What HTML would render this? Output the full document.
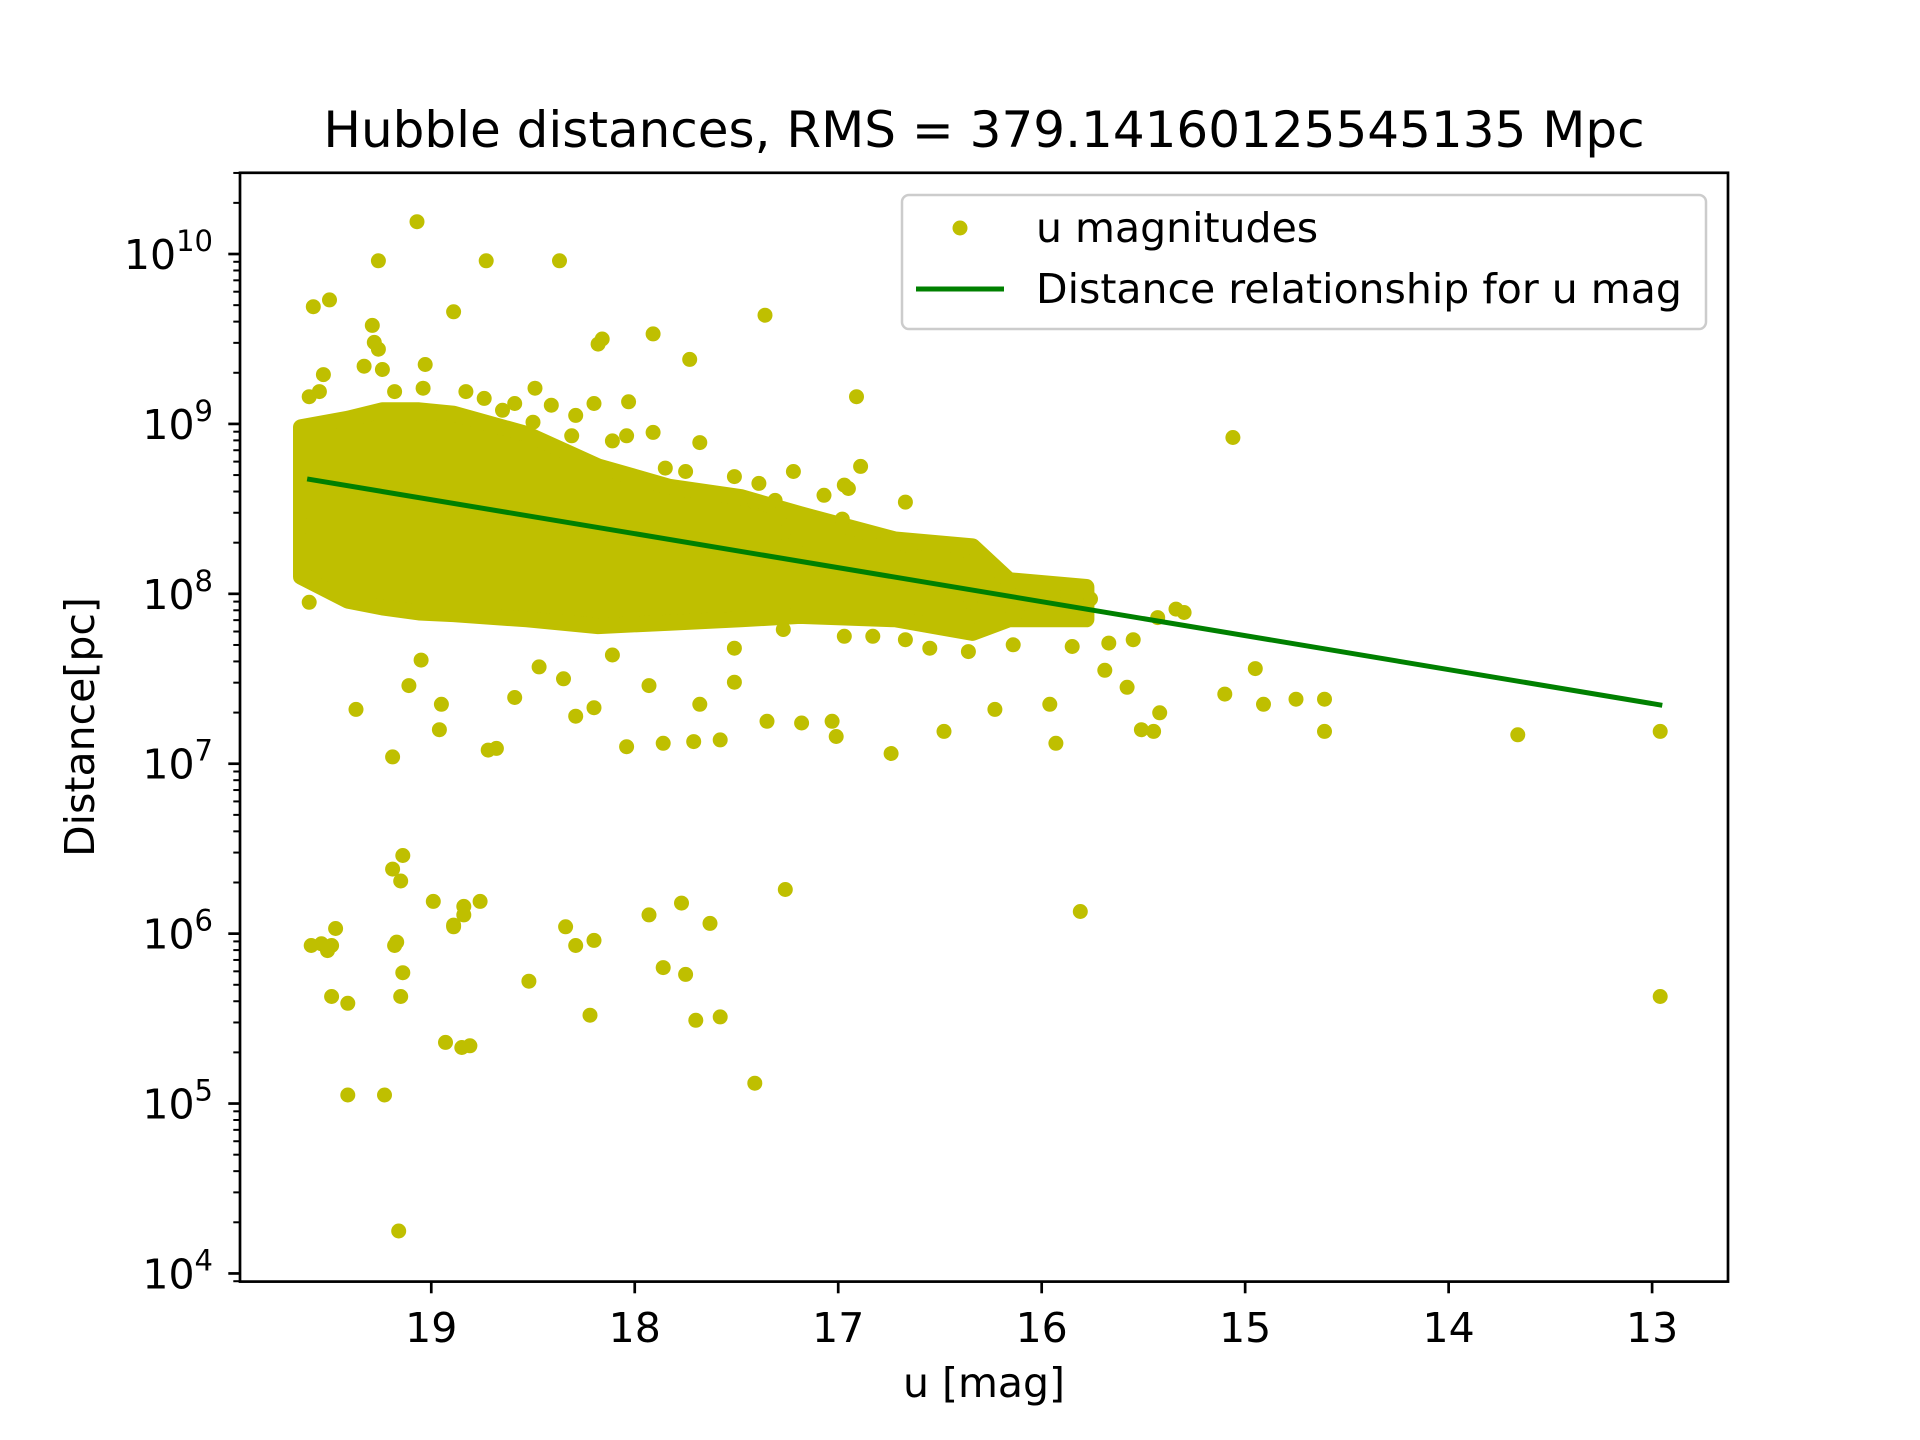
<!DOCTYPE html>
<html><head><meta charset="utf-8"><style>
html,body{margin:0;padding:0;background:#fff;}
svg{display:block;font-family:"DejaVu Sans","Liberation Sans",sans-serif;}
</style></head><body>
<svg id="chart" width="1920" height="1440" viewBox="0 0 1920 1440" xmlns="http://www.w3.org/2000/svg">
<rect width="1920" height="1440" fill="#fff"/>
<text x="984" y="147" font-size="50" text-anchor="middle">Hubble distances, RMS = 379.14160125545135 Mpc</text>
<g id="plot"></g>
<g id="axes"></g>
<text x="984" y="1397" font-size="41" text-anchor="middle">u [mag]</text>
<text x="94" y="727" font-size="41" text-anchor="middle" transform="rotate(-90 94 727)">Distance[pc]</text>
<g>
<rect x="902" y="195" width="804" height="134" rx="7" fill="#fff" fill-opacity="0.8" stroke="#ccc" stroke-width="2.5"/>
<circle cx="960" cy="228" r="7.5" fill="#bfbf00"/>
<text x="1036" y="242" font-size="41">u magnitudes</text>
<line x1="916" y1="289" x2="1004" y2="289" stroke="#008000" stroke-width="5"/>
<text x="1036" y="303" font-size="41">Distance relationship for u mag</text>
</g>
</svg>
<script>
const xTicks = [19,18,17,16,15,14,13];
const yDecades = [4,5,6,7,8,9,10];
// dense core envelope: magnitude, upper log10(d), lower log10(d)
const coreMag = [19.64,19.41,19.24,19.06,18.89,18.53,18.18,17.83,17.48,17.19,16.72,16.34,16.16,15.78];
const coreUpper = [8.98,9.03,9.08,9.08,9.06,8.94,8.75,8.63,8.57,8.47,8.32,8.28,8.08,8.04];
const coreLower = [8.10,7.96,7.92,7.89,7.88,7.85,7.81,7.83,7.85,7.87,7.85,7.77,7.85,7.85];
// individual points: magnitude and log10 distance
const ptMag = [19.07,19.26,18.73,18.37,19.58,19.50,18.89,19.29,19.26,17.36,17.91,18.16,18.18,17.73,19.03,16.91,15.06,19.53,17.68,18.03,
19.16,19.41,19.23,17.41,18.93,18.85,18.81,17.70,17.58,18.22,18.52,19.59,19.54,19.49,19.51,19.47,19.17,19.18,19.14,19.15,19.49,19.41,18.99,18.76,18.84,18.89,18.89,18.84,19.15,19.14,19.19,18.34,18.20,18.29,17.93,17.77,17.63,17.86,17.75,17.26,15.81,12.96,12.96,13.66,
19.19,18.96,18.68,18.72,18.29,18.20,18.04,17.86,17.71,17.58,17.68,17.51,17.35,17.18,17.03,17.01,16.74,16.48,16.23,15.96,15.93,15.69,15.58,15.42,15.45,15.51,14.95,14.91,14.75,14.61,14.61,15.10,15.30,
19.37,19.05,19.11,18.95,18.59,18.47,18.35,18.11,17.93,17.51,17.27,16.97,16.83,16.67,16.55,16.36,16.14,15.85,15.67,15.55,15.43,15.34,15.76,15.94,16.12,16.35,16.30,16.45,16.36,16.57,16.67,16.79,16.85,16.98,17.15,17.27,17.41,17.22,17.07,16.97,16.67,16.95,16.89,
19.28,19.33,19.24,19.18,19.04,18.83,18.74,18.65,18.50,18.31,18.29,18.04,17.91,17.85,18.20,18.59,18.41,18.49,18.11,17.75,17.51,17.39,17.31,19.60,19.55,19.61,19.62,19.60];
const ptLog = [10.19,9.96,9.96,9.96,9.69,9.73,9.66,9.58,9.44,9.64,9.53,9.50,9.47,9.38,9.35,9.16,8.92,9.29,8.89,9.13,
4.25,5.05,5.05,5.12,5.36,5.33,5.34,5.49,5.51,5.52,5.72,5.93,5.94,5.93,5.90,6.03,5.95,5.93,5.77,5.63,5.63,5.59,6.19,6.19,6.16,6.05,6.04,6.11,6.31,6.46,6.38,6.04,5.96,5.93,6.11,6.18,6.06,5.80,5.76,6.26,6.13,5.63,7.19,7.17,
7.04,7.20,7.09,7.08,7.28,7.33,7.10,7.12,7.13,7.14,7.35,7.48,7.25,7.24,7.25,7.16,7.06,7.19,7.32,7.35,7.12,7.55,7.45,7.30,7.19,7.20,7.56,7.35,7.38,7.38,7.19,7.41,7.89,
7.32,7.61,7.46,7.35,7.39,7.57,7.50,7.64,7.46,7.68,7.79,7.75,7.75,7.73,7.68,7.66,7.70,7.69,7.71,7.73,7.86,7.91,7.97,8.00,7.89,7.95,8.04,8.11,8.18,8.29,8.29,8.29,8.18,8.44,8.31,8.36,8.54,8.72,8.58,8.64,8.54,8.62,8.75,
9.48,9.34,9.32,9.19,9.21,9.19,9.15,9.08,9.01,8.93,9.05,8.93,8.95,8.74,9.12,9.12,9.11,9.21,8.90,8.72,8.69,8.65,8.55,9.16,9.19,8.10,8.40,7.95];
const fitMag = [19.61,12.95];
const fitIntercept = 8.676, fitSlope = 0.2, fitMag0 = 19.61;

const X0=240,X1=1728,Y0=172.8,Y1=1281.6;
const xMin=19.94,xMax=12.627,yMin=3.952,yMax=10.478;
const xs = m => X0 + (xMin-m)/(xMin-xMax)*(X1-X0);
const ys = l => Y0 + (yMax-l)/(yMax-yMin)*(Y1-Y0);
const NS="http://www.w3.org/2000/svg";
const plot=document.getElementById('plot'), axes=document.getElementById('axes');
function mk(tag,attrs,parent){const e=document.createElementNS(NS,tag);for(const k in attrs)e.setAttribute(k,attrs[k]);parent.appendChild(e);return e;}

const defs=mk('defs',{},plot);
const cp=mk('clipPath',{id:'clip'},defs);
mk('rect',{x:X0,y:Y0,width:X1-X0,height:Y1-Y0},cp);
const g=mk('g',{'clip-path':'url(#clip)'},plot);

let pts=[];
for(let i=0;i<coreMag.length;i++)pts.push(xs(coreMag[i]).toFixed(1)+','+ys(coreUpper[i]).toFixed(1));
for(let i=coreMag.length-1;i>=0;i--)pts.push(xs(coreMag[i]).toFixed(1)+','+ys(coreLower[i]).toFixed(1));
const core=mk('polygon',{points:pts.join(' '),fill:'#bfbf00',stroke:'#bfbf00','stroke-width':16,'stroke-linejoin':'round'},g);



for(let i=0;i<ptMag.length;i++){
  const c=mk('circle',{cx:xs(ptMag[i]).toFixed(1),cy:ys(ptLog[i]).toFixed(1),r:7.5,fill:'#bfbf00'},g);
  
  
}
const ln=mk('line',{x1:xs(fitMag[0]),y1:ys(fitIntercept+fitSlope*(fitMag[0]-fitMag0)),x2:xs(fitMag[1]),y2:ys(fitIntercept+fitSlope*(fitMag[1]-fitMag0)),stroke:'#008000','stroke-width':5},g);



const fr=mk('rect',{x:X0,y:Y0,width:X1-X0,height:Y1-Y0,fill:'none',stroke:'#000','stroke-width':2.7},axes);



xTicks.forEach(t=>{
  const x=xs(t);
  mk('line',{x1:x,y1:Y1,x2:x,y2:Y1+11.7,stroke:'#000','stroke-width':2.7},axes);
  const tx=mk('text',{x:x,y:1342,'font-size':41,'text-anchor':'middle'},axes);
  tx.textContent=t;
  
  
});
yDecades.forEach(d=>{
  const y=ys(d);
  mk('line',{x1:X0-11.7,y1:y,x2:X0,y2:y,stroke:'#000','stroke-width':2.7},axes);
  const tx=mk('text',{x:213,y:y+15,'font-size':41,'text-anchor':'end'},axes);
  const a=mk('tspan',{},tx); a.textContent='10';
  const b=mk('tspan',{'font-size':29,dy:-18}, tx); b.textContent=String(d);
  
  
  for(let k=2;k<=9;k++){
    const l=d+Math.log10(k);
    if(l<=yMax){const yy=ys(l);mk('line',{x1:X0-6.7,y1:yy,x2:X0,y2:yy,stroke:'#000','stroke-width':2},axes);}
  }
});
for(let k=2;k<=9;k++){const l=3+Math.log10(k);if(l>=yMin){const yy=ys(l);mk('line',{x1:X0-6.7,y1:yy,x2:X0,y2:yy,stroke:'#000','stroke-width':2},axes);}}
</script>
</body></html>
